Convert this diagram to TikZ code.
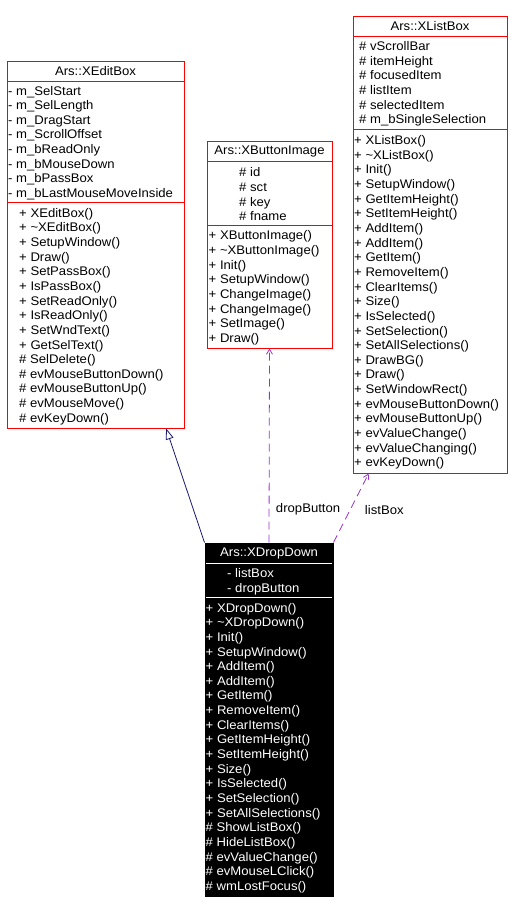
\documentclass[tikz,border=0pt]{standalone}
\usepackage{fontspec}
\setmainfont[FakeStretch=1.05]{Liberation Sans}
\usetikzlibrary{positioning,arrows.meta}
\definecolor{DoxRed}{RGB}{255,0,0}
\definecolor{DoxNavy}{RGB}{25,25,112}
\definecolor{DoxPurple}{RGB}{154,50,205}
\tikzset{
  cls/.style={draw=DoxRed,line width=1pt,fill=white,inner sep=0pt},
  curcls/.style={draw=black,line width=1pt,fill=black,inner sep=0pt},
  sep/.style={draw=DoxRed,line width=1pt},
  cursep/.style={draw=white,line width=1pt},
  clstitle/.style={inner sep=0pt,font=\fontsize{12.5}{14.65}\selectfont},
  members/.style={anchor=west,align=left,inner sep=0pt,yshift=-1.5pt,font=\fontsize{12.5}{14.65}\selectfont},
}
\tikzset{inherit/.style={draw=DoxNavy,line width=0.8pt,-{Triangle[open,length=11pt,width=8pt]}},
  uses/.style={draw=DoxPurple,line width=0.8pt,dash pattern=on 8pt off 5pt,-{Straight Barb[length=5pt,width=6pt]}},
  elabel/.style={inner sep=0pt,anchor=west,yshift=-2pt,font=\fontsize{12.5}{14.65}\selectfont}}

\begin{document}
\begin{tikzpicture}[x=1pt,y=-1pt]
\useasboundingbox (0,0) rectangle (510,913);
% Ars::XEditBox
\node[cls,minimum width=177pt,minimum height=367pt] (editbox) at (95.5,244.5) {};
\draw[sep] (7,81) -- (184,81);
\draw[sep] (7,202) -- (184,202);
\node[clstitle] (editbox-title) at (95.5,71) {Ars::XEditBox};
\node[members] (editbox-attr) at (8,141.5) {- m\_SelStart\\- m\_SelLength\\- m\_DragStart\\- m\_ScrollOffset\\- m\_bReadOnly\\- m\_bMouseDown\\- m\_bPassBox\\- m\_bLastMouseMoveInside};
\node[members] (editbox-ops) at (19,315) {+ XEditBox()\\+ \textasciitilde XEditBox()\\+ SetupWindow()\\+ Draw()\\+ SetPassBox()\\+ IsPassBox()\\+ SetReadOnly()\\+ IsReadOnly()\\+ SetWndText()\\+ GetSelText()\\\# SelDelete()\\\# evMouseButtonDown()\\\# evMouseButtonUp()\\\# evMouseMove()\\\# evKeyDown()};
% Ars::XButtonImage
\node[cls,minimum width=125pt,minimum height=207pt] (buttonimage) at (269.5,244.5) {};
\draw[sep] (207,161) -- (332,161);
\draw[sep] (207,225) -- (332,225);
\node[clstitle] (buttonimage-title) at (269.5,151) {Ars::XButtonImage};
\node[members] (buttonimage-attr) at (239,193) {\# id\\\# sct\\\# key\\\# fname};
\node[members] (buttonimage-ops) at (208.5,286.5) {+ XButtonImage()\\+ \textasciitilde XButtonImage()\\+ Init()\\+ SetupWindow()\\+ ChangeImage()\\+ ChangeImage()\\+ SetImage()\\+ Draw()};
% Ars::XListBox
\node[cls,minimum width=154pt,minimum height=457pt] (listbox) at (430,244.5) {};
\draw[sep] (353,36) -- (507,36);
\draw[sep] (353,129) -- (507,129);
\node[clstitle] (listbox-title) at (430,26) {Ars::XListBox};
\node[members] (listbox-attr) at (359,82.5) {\# vScrollBar\\\# itemHeight\\\# focusedItem\\\# listItem\\\# selectedItem\\\# m\_bSingleSelection};
\node[members] (listbox-ops) at (354,301) {+ XListBox()\\+ \textasciitilde XListBox()\\+ Init()\\+ SetupWindow()\\+ GetItemHeight()\\+ SetItemHeight()\\+ AddItem()\\+ AddItem()\\+ GetItem()\\+ RemoveItem()\\+ ClearItems()\\+ Size()\\+ IsSelected()\\+ SetSelection()\\+ SetAllSelections()\\+ DrawBG()\\+ Draw()\\+ SetWindowRect()\\+ evMouseButtonDown()\\+ evMouseButtonUp()\\+ evValueChange()\\+ evValueChanging()\\+ evKeyDown()};
% Ars::XDropDown
\node[curcls,minimum width=128pt,minimum height=353pt] (dropdown) at (269,719.5) {};
\draw[cursep] (206,563) -- (332,563);
\draw[cursep] (206,597) -- (332,597);
\node[clstitle,text=white] (dropdown-title) at (269,553) {Ars::XDropDown};
\node[members,text=white] (dropdown-attr) at (227,580) {- listBox\\- dropButton};
\node[members,text=white] (dropdown-ops) at (205.5,746.5) {+ XDropDown()\\+ \textasciitilde XDropDown()\\+ Init()\\+ SetupWindow()\\+ AddItem()\\+ AddItem()\\+ GetItem()\\+ RemoveItem()\\+ ClearItems()\\+ GetItemHeight()\\+ SetItemHeight()\\+ Size()\\+ IsSelected()\\+ SetSelection()\\+ SetAllSelections()\\\# ShowListBox()\\\# HideListBox()\\\# evValueChange()\\\# evMouseLClick()\\\# wmLostFocus()};
% relations
\draw[inherit] (dropdown.north west) -- (editbox.-69.5);
\draw[uses] (dropdown.north) -- (buttonimage.south) node[elabel,pos=0.18,xshift=6.5pt] (dropbutton-label) {dropButton};
\draw[uses] (dropdown.north east) -- (listbox.-105.6) node[elabel,pos=0.5,xshift=13.5pt] (listbox-label) {listBox};
\end{tikzpicture}
\end{document}
